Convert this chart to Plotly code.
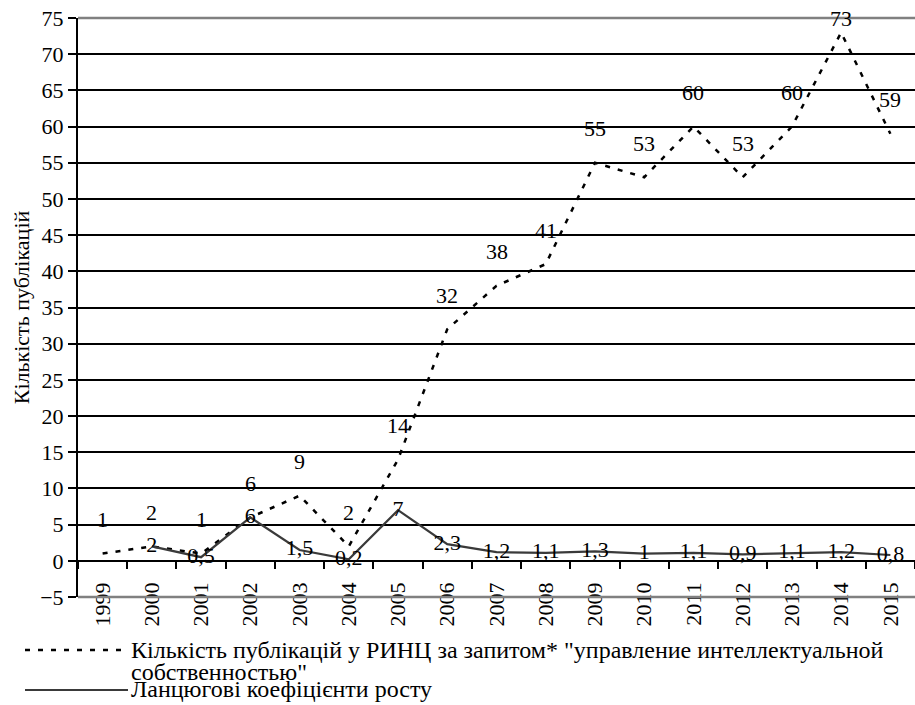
import plotly.graph_objects as go

years = [str(y) for y in range(1999, 2016)]
publications = [1, 2, 1, 6, 9, 2, 14, 32, 38, 41, 55, 53, 60, 53, 60, 73, 59]
growth_years = [str(y) for y in range(2000, 2016)]
growth = [2, 0.5, 6, 1.5, 0.2, 7, 2.3, 1.2, 1.1, 1.3, 1, 1.1, 0.9, 1.1, 1.2, 0.8]

legend_pub_lines = ['Кількість публікацій у РИНЦ за запитом* "управление интеллектуальной',
                    'собственностью"']
name_growth = 'Ланцюгові коефіцієнти росту'
y_title = 'Кількість публікацій'

FONT = "Liberation Serif"
Y_MIN, Y_MAX = -5, 75
W, H = 915, 705
M_L, M_R, M_T, M_B = 78, 0, 18, 108
plot_h = H - M_T - M_B
px_per_unit = plot_h / (Y_MAX - Y_MIN)

def fmt(v):
    return str(v).replace('.', ',')

fig = go.Figure()
fig.add_trace(go.Scatter(
    x=years, y=publications, mode='lines', name=' '.join(legend_pub_lines),
    line=dict(color='black', width=2.5, dash='5px,8px'),
    showlegend=False, cliponaxis=False))
fig.add_trace(go.Scatter(
    x=growth_years, y=growth, mode='lines+text', name=name_growth,
    line=dict(color='#3a3a3a', width=2.2),
    text=[fmt(v) for v in growth], textposition='middle center',
    textfont=dict(family=FONT, size=22, color='black'),
    showlegend=False, cliponaxis=False))

annotations = []
for yr, v in zip(years, publications):
    shift = min(34, (Y_MAX - v) * px_per_unit)
    annotations.append(dict(x=years.index(yr), y=v, xref='x', yref='y', text=fmt(v),
                            showarrow=False, yshift=shift,
                            font=dict(family=FONT, size=22, color='black')))

def px_x(x):
    return (x - M_L) / (W - M_L - M_R)

def px_y(y):
    return (H - M_B - y) / plot_h

shapes = [
    dict(type='line', xref='paper', yref='paper', x0=0, x1=1, y0=1, y1=1,
         line=dict(color='#808080', width=2.5)),
    dict(type='line', xref='paper', yref='paper', x0=0, x1=1, y0=0, y1=0,
         line=dict(color='#808080', width=2.5)),
    dict(type='line', xref='paper', yref='paper', x0=px_x(25), x1=px_x(128),
         y0=px_y(650), y1=px_y(650), line=dict(color='black', width=2.5, dash='5px,8px')),
    dict(type='line', xref='paper', yref='paper', x0=px_x(25), x1=px_x(128),
         y0=px_y(690), y1=px_y(690), line=dict(color='#3a3a3a', width=2.2)),
]
legend_rows = [(legend_pub_lines[0], 650), (legend_pub_lines[1], 672), (name_growth, 689)]
for txt, ypx in legend_rows:
    annotations.append(dict(xref='paper', yref='paper', x=px_x(129), y=px_y(ypx),
                            xanchor='left', yanchor='middle', align='left', showarrow=False,
                            text=txt, font=dict(family=FONT, size=24, color='black')))

fig.update_layout(
    width=W, height=H,
    margin=dict(l=M_L, r=M_R, t=M_T, b=M_B, autoexpand=False),
    paper_bgcolor='white', plot_bgcolor='white',
    font=dict(family=FONT, size=22, color='black'),
    shapes=shapes, annotations=annotations,
    showlegend=False,
    xaxis=dict(type='category', categoryorder='array', categoryarray=years,
               tickson='boundaries', ticks='outside', ticklen=7, tickwidth=2,
               tickcolor='black', tickangle=-90, showgrid=False,
               showline=True, linecolor='black', linewidth=2,
               anchor='free', position=(0 - Y_MIN) / (Y_MAX - Y_MIN),
               tickfont=dict(family=FONT, size=22), range=[-0.5, 16.5],
               ticklabelstandoff=12, automargin=False),
    yaxis=dict(range=[Y_MIN, Y_MAX], dtick=5, tick0=0,
               showgrid=True, gridcolor='black', gridwidth=2,
               zeroline=True, zerolinecolor='black', zerolinewidth=2,
               showline=True, linecolor='black', linewidth=2,
               ticks='outside', ticklen=8, tickwidth=2, tickcolor='black',
               tickfont=dict(family=FONT, size=22), automargin=False,
               title=dict(text=y_title, font=dict(family=FONT, size=22), standoff=4)),
)

fig.write_html("out.html", config={'displayModeBar': False},
               post_script="document.body.style.margin='0';")
